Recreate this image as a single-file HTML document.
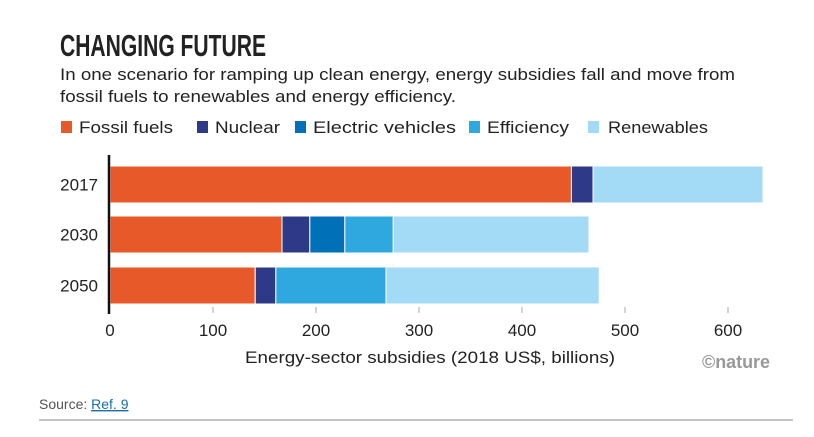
<!DOCTYPE html>
<html><head><meta charset="utf-8"><style>
html,body{margin:0;padding:0;background:#fff;}
svg{display:block;font-family:"Liberation Sans",sans-serif;}
</style></head><body>
<svg width="814" height="437" viewBox="0 0 814 437">
<text x="60" y="56" font-size="31" font-weight="bold" fill="#222" textLength="206" lengthAdjust="spacingAndGlyphs">CHANGING FUTURE</text>
<text x="60" y="80" font-size="17" fill="#222" textLength="675" lengthAdjust="spacingAndGlyphs">In one scenario for ramping up clean energy, energy subsidies fall and move from</text>
<text x="60" y="102" font-size="17" fill="#222" textLength="396" lengthAdjust="spacingAndGlyphs">fossil fuels to renewables and energy efficiency.</text>
<g id="legend"></g>
<g id="plot"></g>
<text x="430" y="363" font-size="17" fill="#222" text-anchor="middle" textLength="370" lengthAdjust="spacingAndGlyphs">Energy-sector subsidies (2018 US$, billions)</text>
<text x="770" y="368" font-size="18" font-weight="bold" fill="#999" text-anchor="end" textLength="68" lengthAdjust="spacingAndGlyphs">©nature</text>
<text x="39" y="409" font-size="14" fill="#555">Source: <tspan fill="#1a6ea8" text-decoration="underline">Ref. 9</tspan></text>
<line x1="39" y1="420" x2="793" y2="420" stroke="#888" stroke-width="1"/>
</svg>
<script>
const years = ["2017","2030","2050"];
const seriesNames = ["Fossil fuels","Nuclear","Electric vehicles","Efficiency","Renewables"];
const fossil = [448,167,141];
const nuclear = [21,27,20];
const ev = [0,34,0];
const efficiency = [0,47,107];
const renewables = [165,190,207];
const ticks = [0,100,200,300,400,500,600];
const colors = ["#e8592a","#2e3a87","#0071b9","#2fa8e0","#a3daf5"];
const NS="http://www.w3.org/2000/svg";
const x0=110, pxPer=1.03;
function xs(v){return x0+v*pxPer;}
const bandTop=[166,216,267], bandH=37;
function ys(i){return bandTop[i];}
function mk(tag,attrs,parent){const e=document.createElementNS(NS,tag);for(const k in attrs)e.setAttribute(k,attrs[k]);parent.appendChild(e);return e;}
const plot=document.getElementById('plot');
const legend=document.getElementById('legend');
const legX=[61,197,295,469,588], legW=[94,65,143,82,100];
seriesNames.forEach((n,i)=>{
  const r=mk('rect',{x:legX[i],y:121,width:11,height:12,fill:colors[i]},legend);
  
  
  const t=mk('text',{x:legX[i]+(i==4?20:18),y:133,'font-size':17,fill:'#222',textLength:legW[i],lengthAdjust:'spacingAndGlyphs'},legend);
  t.textContent=n;
  
  
});
ticks.forEach(v=>{
  if(v>0){const l=mk('line',{x1:xs(v),x2:xs(v),y1:307,y2:313,stroke:'#aaa','stroke-width':1},plot);
  
  }
  const t=mk('text',{x:xs(v),y:336,'font-size':17,fill:'#222','text-anchor':'middle'},plot);
  t.textContent=v;
  
  
});
const series=[fossil,nuclear,ev,efficiency,renewables];
years.forEach((yr,i)=>{
  let acc=0;
  series.forEach((s,k)=>{
    const v=s[i]; if(v<=0) return;
    const r=mk('rect',{x:xs(acc),y:ys(i),width:xs(acc+v)-xs(acc),height:bandH,fill:colors[k],stroke:'#fff','stroke-width':1},plot);
    
    
    acc+=v;
  });
  const t=mk('text',{x:98,y:ys(i)+bandH/2+6,'font-size':17,fill:'#222','text-anchor':'end'},plot);
  t.textContent=yr;
  
  
});
const ax=mk('line',{x1:x0-1,x2:x0-1,y1:155,y2:314,stroke:'#111','stroke-width':2.5},plot);


</script>
</body></html>
